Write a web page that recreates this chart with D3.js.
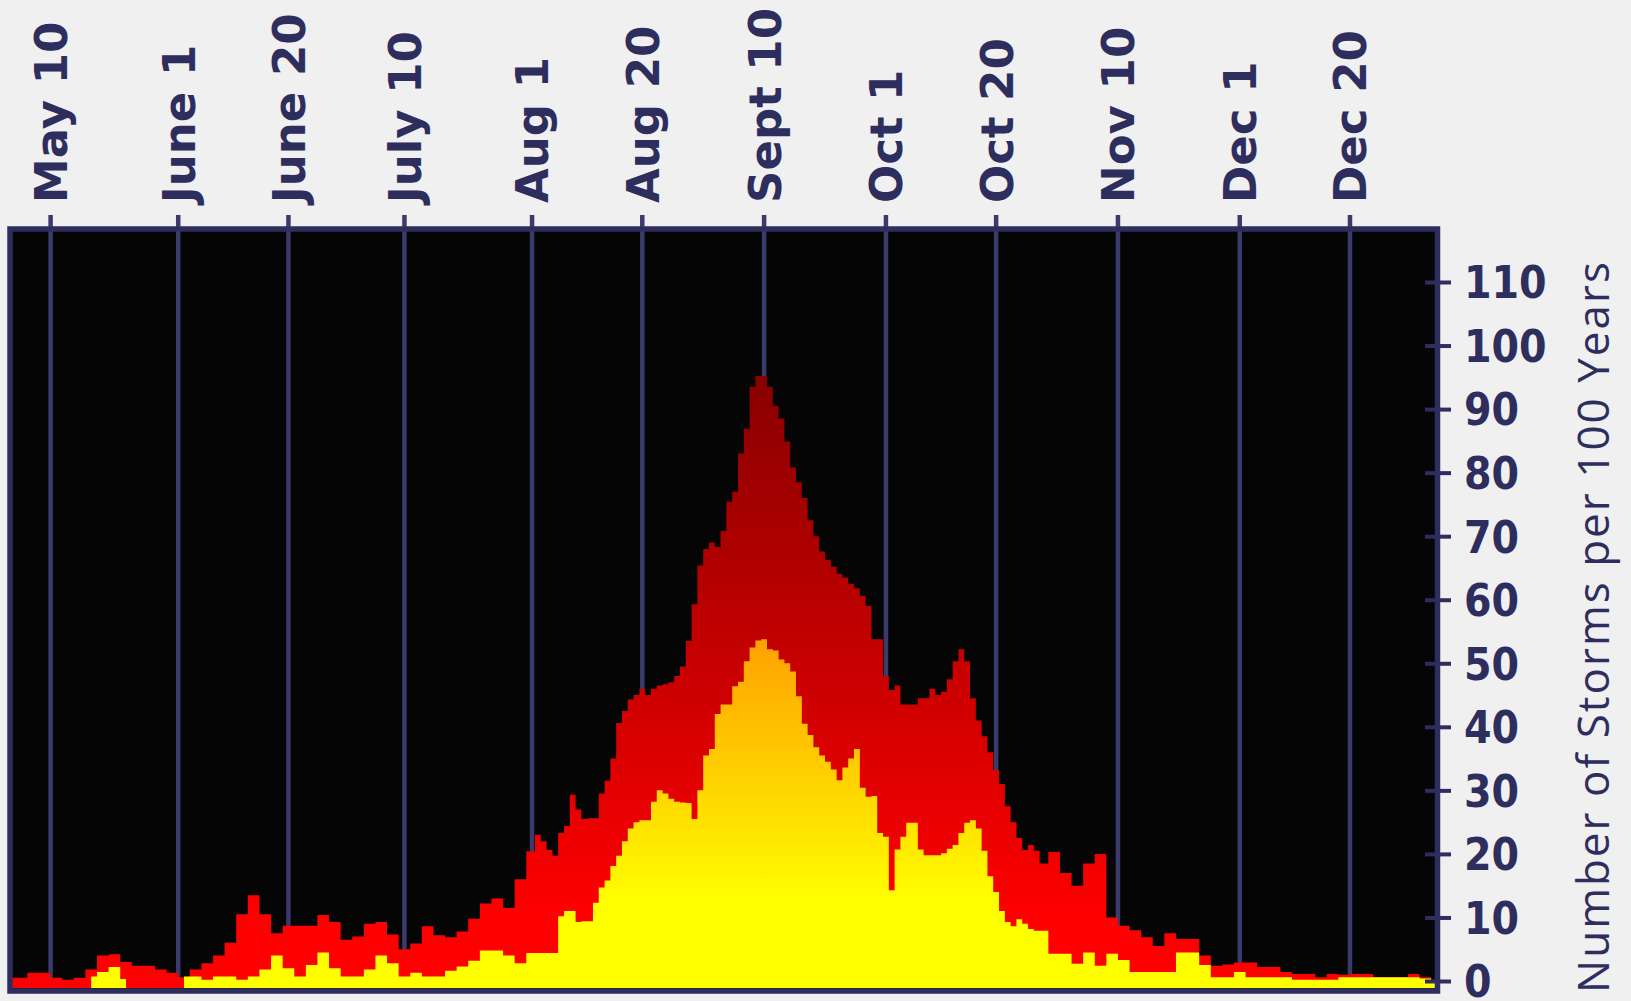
<!DOCTYPE html>
<html><head><meta charset="utf-8">
<script src="https://cdn.jsdelivr.net/npm/d3@7"></script>
<style>
html,body{margin:0;padding:0;background:#f0f0f0;}
svg{display:block;}
</style></head><body>
<svg id="chart" width="1631" height="1001"></svg>
<script>
// Day of year (non-leap): every 2 days early/late season, daily at the peak
const days = [
 123,125,127,129,131,133,135,137,139,141,
 143,145,147,149,151,153,155,157,159,161,
 163,165,167,169,171,173,175,177,179,181,
 183,185,187,189,191,193,195,197,199,201,
 203,205,207,209,211,
 213,214,215,216,217,218,219,220,221,222,
 223,224,225,226,227,228,229,230,231,232,
 233,234,235,236,237,238,239,240,241,242,
 243,244,245,246,247,248,249,250,251,252,
 253,254,255,256,257,258,259,260,261,262,
 263,264,265,266,267,268,269,270,271,272,
 273,274,275,276,277,278,279,280,281,282,
 283,284,285,286,287,288,289,290,291,292,
 293,294,295,296,297,298,299,300,301,
 303,305,307,309,311,313,315,317,319,321,
 323,325,327,329,331,333,335,337,339,341,
 343,345,347,349,351,353,355,357,359,361,
 363,365,367,369
];
// Hurricanes and tropical storms (red)
const totalStorms = [
 0.5,0.5,1.3,1.3,0.5,0.2,0.5,1.8,4,4.2,
 3,2.4,2.4,1.8,1.3,0.6,1.8,2.8,4,6,
 10.5,13.5,10.5,7.5,8.7,8.7,8.7,10.4,9.3,6.5,
 7,9,9.3,7.3,5,5.9,8.6,7.2,6.9,7.8,
 9.8,12.2,13,11.5,16,
 20.4,23,22,20.6,19.7,23.3,24.4,29.3,27,25.5,
 25.6,25.6,29.5,31.5,35,40.6,42.5,44.3,45,46,
 45,46,46.5,46.7,47,48,49.5,53.5,59.3,65.4,
 68,69,68.3,70.8,75.4,77,83,86.9,93.5,95.2,
 95.2,93.5,90.5,88.5,84.9,80.8,78.5,76,72.5,70,
 67.6,66.3,65.2,64.1,63.5,62.5,61.8,60.6,59,53.8,
 53.8,48,45.8,46.5,43.5,43.5,43.5,44.5,44.5,46,
 45,45.5,47.5,50.3,52.2,50.3,44.5,41,38.5,36,
 33.2,31,27.5,25,22.5,20.6,21.4,20.5,18.5,
 20.3,17,15,18.5,20,10,8.7,8,6.9,5.5,
 7.5,6.6,6.6,4,2.4,2.6,2.9,2.9,2.2,2.2,
 1.4,1.1,1.1,0.6,1.1,1,1.1,1.1,0.6,0.6,
 0.6,1.1,0.6,0
];
// Hurricanes (yellow); null = none
const hurricanes = [
 null,null,null,null,null,null,null,0.7,1.4,2.2,
 0.3,null,null,null,null,0.7,0.7,0.2,0.7,0.7,
 0.2,0.7,1.8,4,2,0.7,2.5,4.5,2,0.7,
 0.7,1.8,4,2.8,0.7,1.3,0.7,0.7,1.6,2.3,
 3.2,4.8,4.8,4,2.8,
 4.4,4.4,4.4,4.4,4.4,10.2,11,11,9.3,9.4,
 9.4,12.3,14.7,15.8,18.1,19.7,22,24,25,25.3,
 25.3,28.2,30,29.5,28.7,28.2,28.1,28,25.5,30,
 35.5,36.5,42,43.5,43.5,46.4,47.1,50.3,52.5,53.6,
 53.8,52.2,52,50.6,50,48.7,44.8,40.5,38.7,36.8,
 35.5,34.5,33.3,31.6,33.6,35,36.5,30.4,29,29.1,
 23.3,22.7,14.3,20.7,22.7,24.9,24.9,20.7,19.8,19.8,
 19.8,20.1,20.8,21.4,23.3,24.9,25.3,24,20.5,16.5,
 14,11,9.3,8.6,9.7,9,8.2,7.9,7.9,
 4.3,4.3,2.7,4.5,2.4,4.3,3.3,1.4,1.4,1.4,
 1.4,4.5,4.5,2.5,0.6,0.6,1.4,0.6,0.6,0.6,
 0.6,0.2,0.2,0.2,0.2,0.6,0.6,0.6,0.6,0.6,
 0.6,0.6,0.4,0
];
const tickDays = [130,152,171,191,213,232,253,274,293,314,335,354];
const tickLabels = ["May 10","June 1","June 20","July 10","Aug 1","Aug 20","Sept 10","Oct 1","Oct 20","Nov 10","Dec 1","Dec 20"];
const yTicks = [0,10,20,30,40,50,60,70,80,90,100,110];
const yTitle = "Number of Storms per 100 Years";

const navy = "#2e2e5e";
const gridCol = "#3a3a6c";
const svg = d3.select("#chart");
svg.append("rect").attr("width",1631).attr("height",1001).attr("fill","#f0f0f0");

const x = d3.scaleLinear().domain([123,369]).range([10,1437]);
const y = d3.scaleLinear().domain([0,110]).range([981,282]);
const frame = {x:10, y:229, w:1427.5, h:762};
const base = frame.y + frame.h - 3;

const defs = svg.append("defs");
defs.append("clipPath").attr("id","clip").append("rect")
  .attr("x",frame.x).attr("y",frame.y).attr("width",frame.w).attr("height",frame.h);
const gR = defs.append("linearGradient").attr("id","gRed")
  .attr("gradientUnits","userSpaceOnUse").attr("x1",0).attr("x2",0)
  .attr("y1",y(10)).attr("y2",y(95));
gR.append("stop").attr("offset",0).attr("stop-color","#ff0000");
gR.append("stop").attr("offset",1).attr("stop-color","#880000");
const gY = defs.append("linearGradient").attr("id","gYel")
  .attr("gradientUnits","userSpaceOnUse").attr("x1",0).attr("x2",0)
  .attr("y1",y(12)).attr("y2",y(54));
gY.append("stop").attr("offset",0).attr("stop-color","#ffff00");
gY.append("stop").attr("offset",1).attr("stop-color","#ffa000");

// plot background
svg.append("rect").attr("x",frame.x).attr("y",frame.y).attr("width",frame.w).attr("height",frame.h)
  .attr("fill","#050505");

// gridlines (with small ticks above frame)
svg.append("g").selectAll("line").data(tickDays).join("line")
  .attr("x1",d=>x(d)).attr("x2",d=>x(d)).attr("y1",215).attr("y2",base)
  .attr("stroke",gridCol).attr("stroke-width",4.5);

const idx = d3.range(days.length);
const areaTotal = d3.area().curve(d3.curveStep)
  .x(i=>x(days[i])).y0(base).y1(i=>y(totalStorms[i]));
const areaHur = d3.area().curve(d3.curveStep)
  .defined(i=>hurricanes[i]!=null)
  .x(i=>x(days[i])).y0(base).y1(i=>y(hurricanes[i]));

const gp = svg.append("g").attr("clip-path","url(#clip)");
gp.append("path").attr("d",areaTotal(idx)).attr("fill","url(#gRed)");
gp.append("path").attr("d",areaHur(idx)).attr("fill","url(#gYel)");

// frame
svg.append("rect").attr("x",frame.x).attr("y",frame.y).attr("width",frame.w).attr("height",frame.h)
  .attr("fill","none").attr("stroke",navy).attr("stroke-width",5.5);

// top labels
svg.append("g").selectAll("text").data(tickDays).join("text")
  .attr("transform",d=>`translate(${x(d)+16.4},203) rotate(-90)`)
  .attr("text-anchor","start")
  .attr("font-family","DejaVu Sans").attr("font-weight","bold").attr("font-size",45)
  .attr("fill",navy)
  .text((d,i)=>tickLabels[i]);

// right axis
const ax = svg.append("g").attr("transform","translate(1425,0)")
  .call(d3.axisRight(y).tickValues(yTicks).tickSize(26).tickPadding(13));
ax.select(".domain").remove();
ax.selectAll(".tick line").attr("stroke",navy).attr("stroke-width",4);
ax.selectAll(".tick text").attr("fill",navy)
  .attr("font-family","DejaVu Sans Condensed").attr("font-weight","bold").attr("font-size",44)
  .attr("dy","0.36em");

// axis title
svg.append("text")
  .attr("transform","translate(1609,627.5) rotate(-90)")
  .attr("text-anchor","middle")
  .attr("font-family","Open Sans").attr("font-size",44)
  .attr("fill",navy)
  .attr("textLength",731).attr("lengthAdjust","spacing")
  .text(yTitle);
</script>
</body></html>
